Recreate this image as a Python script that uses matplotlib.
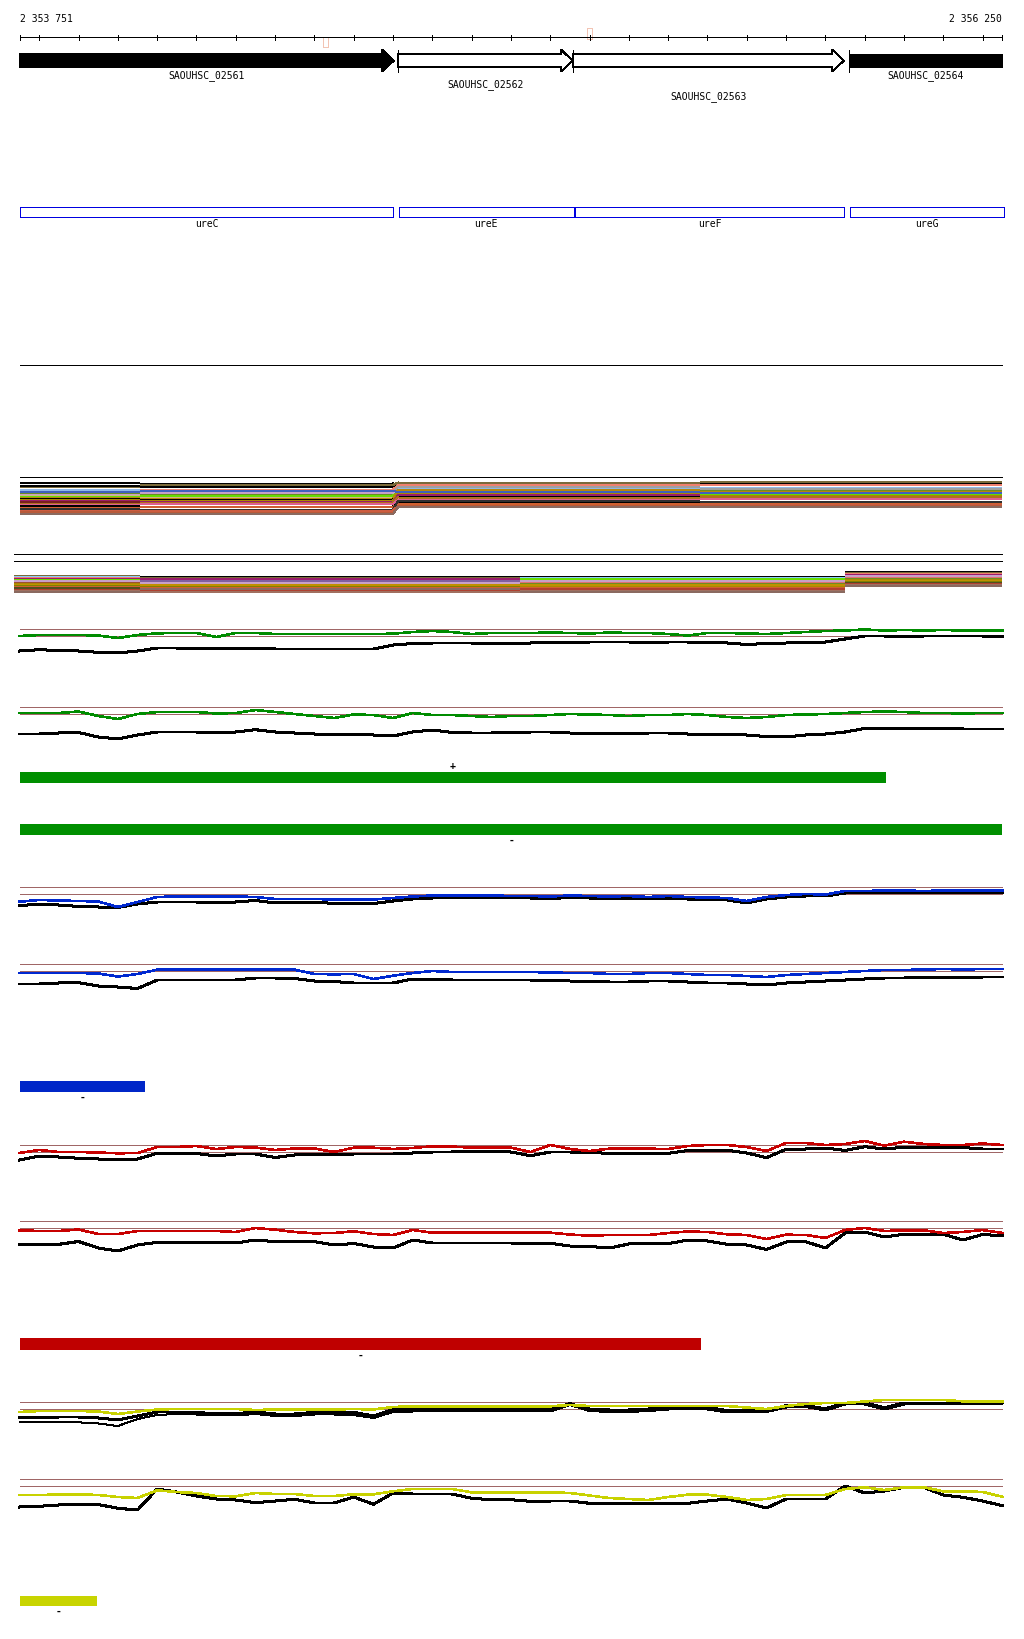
import matplotlib
matplotlib.use("Agg")
import matplotlib.pyplot as plt
from matplotlib.patches import Polygon, Rectangle

W, H, DPI = 1024, 1640, 100
VIEW_START, VIEW_END = 2353751, 2356250
PX_LEFT, PX_RIGHT = 20.0, 1002.3
BP_PER_PX = (VIEW_END - VIEW_START) / (PX_RIGHT - PX_LEFT)
XLIM = (VIEW_START - PX_LEFT * BP_PER_PX, VIEW_START + (W - PX_LEFT) * BP_PER_PX)
PX = 72.0 / DPI
MONO = "DejaVu Sans Mono"

# ---------------- data ----------------
tick_positions = list(range(2353800, 2356201, 100))
coord_labels = ["2 353 751", "2 356 250"]

gene_names = ["SAOUHSC_02561", "SAOUHSC_02562", "SAOUHSC_02563", "SAOUHSC_02564"]
gene_starts = [2353751, 2354713, 2355157, 2355861]
gene_ends = [2354702, 2355157, 2355847, 2356250]
gene_filled = [True, False, False, True]
gene_has_head = [True, True, True, False]
gene_has_startbar = [False, True, True, True]

ure_names = ["ureC", "ureE", "ureF", "ureG"]
ure_starts = [2353751, 2354714, 2355163, 2355862]
ure_ends = [2354700, 2355160, 2355847, 2356254]

marker_starts = [2354522, 2355193]
marker_ends = [2354535, 2355206]

sample_positions = list(range(2353750, 2356251, 50))

green_up_color = [93.3,94.3,94.3,94.3,93.8,91.3,94.3,96.0,96.3,96.3,92.3,96.3,96.3,95.3,95.3,95.3,95.3,95.3,95.3,95.6,97.3,98.3,97.3,95.3,96.3,96.3,96.3,96.8,96.3,95.8,96.8,96.3,96.3,95.3,93.8,96.3,96.3,95.8,95.3,96.3,97.3,98.3,98.8,99.8,98.8,99.3,98.8,99.3,98.8,98.8,98.8]
green_up_black = [78.3,79.6,78.8,78.3,77.0,76.3,78.3,81.3,81.3,80.8,80.8,81.3,80.8,80.3,80.3,80.3,80.3,80.3,80.3,84.3,85.8,86.3,86.3,86.3,85.8,85.8,86.3,86.8,86.8,87.3,87.3,87.3,86.8,87.3,87.3,86.8,86.3,84.8,85.8,86.3,86.8,87.3,90.3,93.3,93.3,92.8,93.3,93.3,93.3,93.3,92.8]
green_lo_color = [94.3,94.3,94.3,95.8,91.3,88.3,93.3,95.3,95.3,95.3,93.8,94.3,97.3,95.3,93.3,91.3,89.3,92.8,92.3,89.3,94.3,92.3,92.3,91.3,90.3,91.3,91.3,92.3,93.3,92.8,92.3,91.3,92.3,92.3,93.3,92.3,90.3,89.3,90.3,92.3,92.8,93.3,94.3,95.3,95.8,95.3,94.3,94.3,93.8,94.3,94.3]
green_lo_black = [73.3,73.3,74.3,74.8,70.3,68.3,72.3,75.3,75.3,75.3,74.8,75.3,77.6,75.3,74.3,73.3,72.8,72.8,72.3,71.3,75.3,77.3,74.8,74.3,74.3,74.8,75.3,75.3,74.3,73.8,73.3,73.8,74.3,74.3,73.3,72.8,73.3,72.3,70.8,70.3,72.3,73.3,75.3,78.8,79.3,78.8,78.3,78.8,78.3,78.3,78.3]

blue_up_color = [85.6,87.3,86.8,86.3,85.8,80.3,85.3,90.3,90.8,90.8,90.8,90.8,90.3,88.3,88.3,88.3,87.8,87.8,87.8,89.3,90.8,91.8,91.8,91.8,91.8,91.3,91.3,90.8,91.8,91.3,90.8,91.3,90.3,91.3,90.3,89.8,89.3,86.3,90.3,92.3,93.3,92.8,96.3,96.3,96.8,96.8,96.3,96.8,96.8,96.8,96.8]
blue_up_black = [81.6,83.3,82.3,80.8,80.3,79.8,83.3,85.3,85.3,85.3,84.8,85.3,86.8,84.3,84.8,85.3,83.8,83.8,83.8,86.3,88.3,89.3,89.3,89.3,89.3,89.3,89.3,88.8,89.8,89.3,88.8,89.3,88.3,89.3,88.3,87.8,87.3,84.3,88.3,90.3,91.3,91.3,94.3,94.3,94.8,94.8,94.3,94.8,94.8,94.8,94.8]
blue_lo_color = [91.3,91.3,91.3,91.3,90.8,87.8,90.3,94.6,94.6,94.6,94.6,94.6,94.6,94.6,94.6,90.3,90.0,90.3,85.3,88.6,91.3,93.3,92.3,92.3,92.3,92.3,92.3,91.8,91.3,91.3,90.3,90.3,91.3,91.3,90.3,89.3,89.3,88.3,87.3,89.3,90.3,91.3,92.3,93.3,94.3,94.3,94.8,95.3,94.8,95.3,95.3]
blue_lo_black = [80.3,80.3,81.3,81.6,78.3,77.3,75.8,84.3,84.3,84.3,84.3,84.3,86.3,86.3,85.8,83.3,82.8,81.3,81.3,81.3,85.3,84.8,84.3,84.3,84.3,84.3,84.3,83.8,83.3,82.8,82.3,82.3,83.3,83.3,82.3,81.3,81.3,80.3,79.3,81.3,82.3,83.3,84.3,85.3,86.3,86.3,86.8,87.3,86.8,87.3,87.3]

red_up_color = [91.5,94.5,92.5,92.5,92.0,91.2,91.5,97.5,97.5,98.5,95.5,97.5,97.0,94.5,96.0,96.0,92.5,96.8,96.8,95.5,96.5,98.2,98.0,96.8,96.8,96.8,92.5,99.5,95.5,93.5,95.8,95.8,95.8,95.5,98.5,99.5,99.5,97.5,93.5,101.5,101.5,99.5,100.5,103.5,98.8,102.8,100.5,99.5,99.5,101.0,99.5]
red_up_black = [84.5,88.5,87.5,86.2,85.5,85.0,85.5,91.2,91.2,91.0,88.5,90.5,90.5,87.0,89.5,89.8,90.0,90.5,90.5,90.5,91.5,92.5,92.5,92.8,92.8,92.5,88.8,92.5,92.5,92.0,91.2,91.2,91.2,91.2,94.0,94.2,94.2,91.5,86.8,95.2,95.5,96.5,94.0,97.8,95.5,97.2,97.2,97.2,97.0,95.5,95.5]
red_lo_color = [91.0,90.3,90.3,91.8,87.3,87.3,90.3,90.3,90.3,90.3,90.3,89.3,93.3,91.6,89.3,88.0,88.3,90.0,87.3,86.3,91.3,88.6,88.6,88.6,88.6,88.6,88.6,88.6,86.8,85.6,86.3,86.3,86.3,88.3,89.8,89.3,87.0,86.3,82.3,86.6,86.3,83.3,91.3,93.3,90.3,91.0,91.0,88.3,89.3,91.3,88.3]
red_lo_black = [76.6,77.0,77.0,79.8,73.3,70.3,76.3,79.0,79.0,79.0,79.0,78.3,81.3,79.6,79.6,79.6,76.3,77.8,74.3,73.3,81.3,78.3,78.3,78.3,78.3,78.3,78.0,78.0,75.3,74.8,73.3,77.3,77.6,77.6,81.3,80.3,77.0,76.3,71.8,79.3,79.6,73.3,88.3,89.3,84.3,87.0,87.0,87.0,81.3,86.8,85.6]

yellow_up_color = [90.3,91.3,91.3,91.3,90.8,88.3,90.8,92.8,93.3,93.3,93.3,93.3,92.3,92.8,92.8,92.8,92.8,93.3,92.8,95.3,96.0,96.0,96.0,96.0,96.0,96.0,96.0,96.0,97.3,96.3,96.3,96.3,96.3,96.3,96.3,96.3,96.3,94.8,93.3,96.3,98.3,99.3,99.3,100.8,102.3,102.3,102.3,102.3,101.0,101.0,101.0]
yellow_up_black = [85.0,85.0,85.3,85.3,84.3,82.3,86.3,90.3,90.3,89.8,88.6,88.6,90.3,88.3,88.3,90.0,90.0,90.0,86.3,92.6,92.6,92.6,92.6,92.6,92.6,92.6,92.6,92.6,98.6,93.3,92.3,92.3,93.3,95.0,95.0,95.0,91.6,91.6,91.6,96.6,96.6,93.6,99.3,99.3,94.6,99.3,99.3,99.3,99.3,99.3,99.3]
yellow_up_black2 = [80.0,80.0,80.0,80.0,78.8,76.3,83.3,87.3,88.3,87.8,86.8,86.8,88.3,86.3,86.3,87.8,87.8,87.3,84.3,90.3,90.8,90.8,90.8,90.8,90.8,90.8,90.8,90.8,97.3,91.3,90.3,90.3,91.3,92.8,92.8,92.8,89.8,89.8,90.3,94.8,95.3,91.8,97.8,97.8,92.8,97.8,97.8,97.8,97.8,97.8,97.8]
yellow_lo_color = [84.3,84.3,84.8,85.0,84.3,82.3,81.3,89.0,87.3,86.3,83.3,83.0,86.3,85.3,85.3,83.3,83.3,85.0,85.0,88.0,90.3,90.3,90.3,87.0,87.0,87.0,87.0,87.0,86.3,83.8,81.3,80.3,79.3,82.3,84.6,84.6,82.3,79.3,80.3,84.3,84.3,84.3,90.3,92.0,89.3,92.0,92.0,88.0,88.0,87.3,82.6]
yellow_lo_black = [72.3,73.0,74.3,75.0,74.8,71.0,69.3,90.3,87.3,83.3,80.3,79.3,76.6,78.3,80.0,76.3,76.3,82.3,75.0,86.3,85.3,85.3,85.3,81.0,79.6,79.6,78.0,78.3,78.3,76.0,76.0,76.0,76.0,76.0,76.0,78.3,80.3,76.3,71.3,80.3,80.3,80.3,93.3,86.3,88.3,92.0,92.0,84.3,82.0,78.3,73.6]

threshold_high, threshold_low = 100.0, 93.0

# interval tracks (strand labels, start, end)
interval_labels = ["+", "-", "-", "-", "-"]
interval_starts = [2353751, 2353751, 2353751, 2353751, 2353751]
interval_ends = [2355954, 2356250, 2354069, 2355483, 2353947]

# multi-sample stripe blocks: level per sample in four segments
block1_segments = [(2353751, 2354056), (2354056, 2354700), (2354713, 2355481), (2355481, 2356250)]
block1_a = [94.3,90.6,91.6,87.0,85.6,84.0,83.3,82.3,81.3,80.3,79.3,78.8,77.6,76.3,75.0,73.6,72.3,71.0,69.3,68.3,66.3,65.3,63.8,85.3]
block1_b = [93.8,92.3,90.3,87.0,87.8,84.8,82.8,84.3,80.8,81.8,78.8,77.8,76.8,75.3,74.3,74.8,73.3,70.8,70.3,67.8,66.8,64.3,63.3,86.3]
block1_c = [93.6,94.8,91.3,89.3,92.3,90.3,86.3,84.8,83.8,84.3,87.3,81.3,83.3,82.0,79.0,79.8,77.6,75.0,73.0,76.3,71.6,71.3,70.3,85.3]
block1_d = [93.8,95.0,92.3,89.8,92.8,88.3,86.8,85.8,84.3,83.3,85.8,81.8,81.3,80.8,79.3,80.3,78.3,75.8,74.3,75.3,72.8,71.8,70.8,84.3]

block2_segments = [(2353736, 2354056), (2354056, 2355023), (2355023, 2355850), (2355850, 2356250)]
block2_a = [78.0,78.6,77.0,76.3,75.3,74.6,73.6,73.0,72.3,71.6,70.6,70.0,69.3,68.0,67.0,66.0,64.6,63.3,62.0,73.3]
block2_b = [77.8,76.3,75.3,74.3,75.8,73.3,72.3,73.8,70.8,70.3,69.3,68.3,69.8,67.3,66.3,65.3,64.3,62.8,65.3,71.8]
block2_c = [77.8,76.8,76.3,75.3,74.3,75.8,72.8,71.8,71.3,69.8,70.8,68.3,69.3,66.8,66.3,64.8,65.3,63.3,62.3,73.3]
block2_d = [82.8,81.8,80.3,80.8,79.3,78.3,77.3,77.8,76.3,75.3,75.8,74.3,73.3,72.3,71.3,71.8,70.3,69.3,68.3,78.8]

# ---------------- styles / layout ----------------
plt.rcParams['lines.antialiased'] = False
plt.rcParams['patch.antialiased'] = False

block1_colors = ['#000000', '#7a6a3a', '#000000', '#8fb8e8', '#f08070', '#a0a0a0', '#6b8e23', '#c8a0c8',
                 '#d2b48c', '#66dd00', '#b8860b', '#000000', '#aa8800', '#9b1b6b', '#7a1f1f', '#b07020',
                 '#e06090', '#000000', '#d06030', '#303030', '#cd5c40', '#b85a3a', '#8a6a60', '#4060c0']
block2_colors = ['#000000', '#7a6a3a', '#87cefa', '#f08070', '#9b1b6b', '#66dd00', '#b8860b', '#8060a0',
                 '#e07070', '#a05030', '#6b8e23', '#aa8800', '#c09000', '#808000', '#d06030', '#505020',
                 '#b04030', '#a07060', '#8a6a60', '#c8a0c8']

BROWN = '#a06666'
track_specs = [
    (630.3, green_up_color, green_up_black, None, '#008c00'),
    (708.3, green_lo_color, green_lo_black, None, '#008c00'),
    (888.3, blue_up_color, blue_up_black, None, '#0028d0'),
    (965.3, blue_lo_color, blue_lo_black, None, '#0028d0'),
    (1145.5, red_up_color, red_up_black, None, '#c80000'),
    (1222.3, red_lo_color, red_lo_black, None, '#c80000'),
    (1403.3, yellow_up_color, yellow_up_black, yellow_up_black2, '#c8d200'),
    (1480.3, yellow_lo_color, yellow_lo_black, None, '#c8d200'),
]
interval_colors = ['#008f00', '#008f00', '#0026c8', '#bf0000', '#c8d400']
interval_y = [(773, 783.5), (824.5, 835.7), (1082, 1092.7), (1339, 1351), (1597, 1607)]
interval_label_y = [766.5, 841, 1098, 1356, 1612]

fig = plt.figure(figsize=(W / DPI, H / DPI), dpi=DPI)
fig.patch.set_facecolor('white')
ax = fig.add_axes([0, 0, 1, 1])
ax.set_xlim(XLIM)
ax.set_ylim(H, 0)
ax.axis('off')

# ruler
ax.plot([VIEW_START, VIEW_END], [38.3, 38.3], color='k', lw=PX)
ax.vlines(tick_positions + [VIEW_START, VIEW_END], 36.3, 40.7, color='k', lw=PX, antialiased=False)
ax.text(VIEW_START, 19.5, coord_labels[0], ha='left', va='center', fontsize=7, family=MONO)
ax.text(VIEW_END, 19.5, coord_labels[1], ha='right', va='center', fontsize=7, family=MONO)
for s, e, y0, h in zip(marker_starts, marker_ends, [38, 29], [10, 11]):
    ax.add_patch(Rectangle((s, y0), e - s, h, fill=False, edgecolor='#f2c4b4', lw=PX))

# genes
yc, body, head = 61.6, 6.7, 11.0
head_bp = 11.7 * BP_PER_PX
label_rows = [76, 85, 97, 76]
for name, s, e, filled, hh, sb, ly in zip(gene_names, gene_starts, gene_ends, gene_filled,
                                          gene_has_head, gene_has_startbar, label_rows):
    if hh:
        pts = [(s, yc - body), (e - head_bp, yc - body), (e - head_bp, yc - head), (e, yc),
               (e - head_bp, yc + head), (e - head_bp, yc + body), (s, yc + body)]
    else:
        pts = [(s, yc - body), (e, yc - body), (e, yc + body), (s, yc + body)]
    ax.add_patch(Polygon(pts, closed=True, facecolor='k' if filled else 'white',
                         edgecolor='k', lw=PX, zorder=3))
    if sb:
        ax.plot([s, s], [yc - head, yc + head], color='k', lw=PX, zorder=4)
    ax.text((s + e) / 2, ly, name, ha='center', va='center', fontsize=7, family=MONO)

for name, s, e in zip(ure_names, ure_starts, ure_ends):
    ax.add_patch(Rectangle((s, 207.5), e - s, 10, fill=False, edgecolor='#0000e0', lw=PX))
    ax.text((s + e) / 2, 224, name, ha='center', va='center', fontsize=7, family=MONO)

ax.plot([VIEW_START, VIEW_END], [366, 366], color='k', lw=PX)

# interval bars
for lab, s, e, c, (y0, y1), ly in zip(interval_labels, interval_starts, interval_ends,
                                      interval_colors, interval_y, interval_label_y):
    ax.add_patch(Rectangle((s, y0), e - s, y1 - y0, facecolor=c, edgecolor='none'))
    ax.text((s + e) / 2, ly, lab, ha='center', va='center', fontsize=7, family=MONO,
            fontweight='bold')


def track_axes(ytop):
    tax = fig.add_axes([0, 1 - (ytop + 85) / H, 1, 100 / H])
    tax.set_xlim(XLIM)
    tax.set_ylim(15, 115)
    tax.axis('off')
    tax.patch.set_visible(False)
    return tax


for ytop, col, blk, blk2, c in track_specs:
    tax = track_axes(ytop)
    tax.hlines([threshold_high, threshold_low], VIEW_START, VIEW_END, colors=BROWN, lw=PX,
               zorder=1, antialiased=False)
    tax.plot(sample_positions, blk, color='k', lw=PX * 2, zorder=2)
    if blk2 is not None:
        tax.plot(sample_positions, blk2, color='k', lw=PX, zorder=2)
    tax.plot(sample_positions, col, color=c, lw=PX * 1.6, zorder=3)

# stripe block 1
t1 = track_axes(478.3)
t1.hlines(100, VIEW_START, VIEW_END, colors='k', lw=PX, antialiased=False)
for seg, levels in zip(block1_segments, [block1_a, block1_b, block1_c, block1_d]):
    t1.hlines(levels, seg[0], seg[1], colors=block1_colors, lw=PX * 1.8, antialiased=False)
for vb, vc, c in zip(block1_b, block1_c, block1_colors):
    t1.plot([block1_segments[1][1], block1_segments[2][0]], [vb, vc], color=c, lw=PX)

# stripe block 2
t2 = track_axes(555.3)
t2.hlines([100, 93], block2_segments[0][0], VIEW_END, colors='k', lw=PX, antialiased=False)
for seg, levels in zip(block2_segments, [block2_a, block2_b, block2_c, block2_d]):
    t2.hlines(levels, seg[0], seg[1], colors=block2_colors, lw=PX * 1.8, antialiased=False)

fig.savefig("out.png", dpi=DPI, facecolor='white')
